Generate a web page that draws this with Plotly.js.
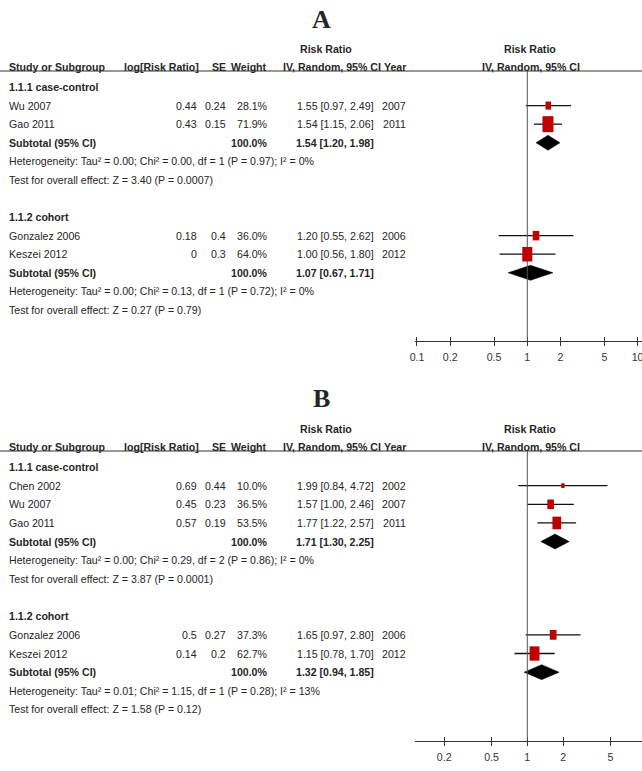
<!DOCTYPE html>
<html>
<head>
<meta charset="utf-8">
<script src="https://cdn.plot.ly/plotly-3.0.1.min.js"></script>
<style>html,body{margin:0;padding:0;background:#fff;}#chart{width:642px;height:771px;}</style>
</head>
<body>
<div id="chart"></div>
<script>
// ---------------- DATA ----------------
// Panel A
const A_groups = ['1.1.1 case-control', '1.1.2 cohort'];
const A_study = ['Wu 2007', 'Gao 2011', 'Gonzalez 2006', 'Keszei 2012'];
const A_group = [0, 0, 1, 1];
const A_logrr = ['0.44', '0.43', '0.18', '0'];
const A_se = ['0.24', '0.15', '0.4', '0.3'];
const A_weight = [28.1, 71.9, 36.0, 64.0];
const A_rr = [1.55, 1.54, 1.20, 1.00];
const A_lo = [0.97, 1.15, 0.55, 0.56];
const A_hi = [2.49, 2.06, 2.62, 1.80];
const A_year = ['2007', '2011', '2006', '2012'];
const A_sub_rr = [1.54, 1.07];
const A_sub_lo = [1.20, 0.67];
const A_sub_hi = [1.98, 1.71];
const A_het = ['Heterogeneity: Tau² = 0.00; Chi² = 0.00, df = 1 (P = 0.97); I² = 0%',
               'Heterogeneity: Tau² = 0.00; Chi² = 0.13, df = 1 (P = 0.72); I² = 0%'];
const A_test = ['Test for overall effect: Z = 3.40 (P = 0.0007)',
                'Test for overall effect: Z = 0.27 (P = 0.79)'];
const A_ticks = [0.1, 0.2, 0.5, 1, 2, 5, 10];
const A_ticktext = ['0.1', '0.2', '0.5', '1', '2', '5', '10'];

// Panel B
const B_groups = ['1.1.1 case-control', '1.1.2 cohort'];
const B_study = ['Chen 2002', 'Wu 2007', 'Gao 2011', 'Gonzalez 2006', 'Keszei 2012'];
const B_group = [0, 0, 0, 1, 1];
const B_logrr = ['0.69', '0.45', '0.57', '0.5', '0.14'];
const B_se = ['0.44', '0.23', '0.19', '0.27', '0.2'];
const B_weight = [10.0, 36.5, 53.5, 37.3, 62.7];
const B_rr = [1.99, 1.57, 1.77, 1.65, 1.15];
const B_lo = [0.84, 1.00, 1.22, 0.97, 0.78];
const B_hi = [4.72, 2.46, 2.57, 2.80, 1.70];
const B_year = ['2002', '2007', '2011', '2006', '2012'];
const B_sub_rr = [1.71, 1.32];
const B_sub_lo = [1.30, 0.94];
const B_sub_hi = [2.25, 1.85];
const B_het = ['Heterogeneity: Tau² = 0.00; Chi² = 0.29, df = 2 (P = 0.86); I² = 0%',
               'Heterogeneity: Tau² = 0.01; Chi² = 1.15, df = 1 (P = 0.28); I² = 13%'];
const B_test = ['Test for overall effect: Z = 3.87 (P = 0.0001)',
                'Test for overall effect: Z = 1.58 (P = 0.12)'];
const B_ticks = [0.2, 0.5, 1, 2, 5];
const B_ticktext = ['0.2', '0.5', '1', '2', '5'];

const headers = ['Study or Subgroup', 'log[Risk Ratio]', 'SE', 'Weight', 'IV, Random, 95% CI', 'Year'];
const effectLabel = 'Risk Ratio';
const methodLabel = 'IV, Random, 95% CI';
const subtotalLabel = 'Subtotal (95% CI)';
const subtotalWeight = '100.0%';

// ---------------- BUILD ----------------
const W = 642, H = 771;
const FONT = 'Liberation Sans, Arial, sans-serif';
const FS = 10.6;
const TXT = '#262626';
const traces = [];
const shapes = [];
const annotations = [];
const layout = {
  width: W, height: H,
  margin: {l: 0, r: 0, t: 0, b: 0},
  paper_bgcolor: '#fff', plot_bgcolor: 'rgba(0,0,0,0)',
  showlegend: false,
  font: {family: FONT, size: FS, color: TXT},
  shapes: shapes, annotations: annotations
};
const L10 = v => Math.log10(v);

function txtPx(text, xPx, yPx, anchor, bold, size, family) {
  annotations.push({
    text: bold ? '<b>' + text + '</b>' : text,
    xref: 'paper', x: xPx / W, yref: 'paper', y: 1 - yPx / H,
    xanchor: anchor, yanchor: 'middle', showarrow: false,
    borderpad: 0, borderwidth: 0,
    font: {family: family || FONT, size: size || FS, color: TXT}
  });
}

function buildPanel(P) {
  const g = P.geom;
  const rowPx = r => g.row0Px + r * g.step;
  const txt = (text, xPx, r, anchor, bold) => txtPx(text, xPx, rowPx(r), anchor, bold);
  const yTop = (g.linePx - g.row0Px) / g.step;
  const yBot = (g.axisPx - g.row0Px) / g.step;
  const yaName = 'yaxis' + (P.y === 'y' ? '' : P.y.slice(1));
  const xaName = 'xaxis' + (P.x === 'x' ? '' : P.x.slice(1));
  const xoName = 'xaxis' + P.xo.slice(1);
  const dom = [g.xLeftPx / W, 1];
  const tv = P.ticks.map(L10);
  layout[yaName] = {domain: [1 - g.axisPx / H, 1 - g.linePx / H], range: [yBot, yTop],
                    visible: false, fixedrange: true};
  layout[xaName] = {domain: dom, range: g.xRange, anchor: P.y, showgrid: false, zeroline: false,
                    showline: true, linecolor: '#333', linewidth: 1.2,
                    ticks: 'outside', ticklen: 4, tickwidth: 1, tickcolor: '#333',
                    tickmode: 'array', tickvals: tv, ticktext: P.ticktext,
                    tickfont: {family: FONT, size: FS, color: '#333'}, ticklabelstandoff: 2,
                    ticklabeloverflow: 'allow', fixedrange: true};
  layout[xoName] = {domain: dom, range: g.xRange, anchor: P.y, overlaying: P.x,
                    showgrid: false, zeroline: false, showline: false,
                    ticks: 'inside', ticklen: 4, tickwidth: 1, tickcolor: '#333',
                    tickmode: 'array', tickvals: tv, showticklabels: false, fixedrange: true};
  traces.push({x: [0], y: [0], xaxis: P.xo, yaxis: P.y, mode: 'markers',
               marker: {opacity: 0}, hoverinfo: 'skip'});

  const pxPerX = (W - g.xLeftPx) / (g.xRange[1] - g.xRange[0]);

  // header line and null line
  shapes.push({type: 'line', xref: 'paper', x0: 0, x1: 1, yref: P.y + ' domain', y0: 1, y1: 1,
               line: {color: '#333', width: 1.2}});
  shapes.push({type: 'line', xref: P.x, x0: 0, x1: 0, yref: P.y + ' domain', y0: 0, y1: 1,
               line: {color: '#555', width: 1}});

  // titles & headers
  txtPx(P.title, 321, g.titlePx, 'center', true, 26, 'Liberation Serif, Times New Roman, serif');
  txtPx(effectLabel, 326, g.linePx - 22, 'center', true);
  txtPx(effectLabel, 530, g.linePx - 22, 'center', true);
  const hy = g.linePx - 4;
  txtPx(headers[0], 9, hy, 'left', true);
  txtPx(headers[1], 199, hy, 'right', true);
  txtPx(headers[2], 226, hy, 'right', true);
  txtPx(headers[3], 267, hy, 'right', true);
  txtPx(headers[4], 381, hy, 'right', true);
  txtPx(headers[5], 406, hy, 'right', true);
  txtPx(methodLabel, 531, hy, 'center', true);

  const ciX = [], ciY = [];
  let r = 0;
  P.groups.forEach((gname, gi) => {
    txt(gname, 9, r, 'left', true);
    r++;
    P.study.forEach((s, i) => {
      if (P.group[i] !== gi) return;
      txt(s, 9, r, 'left', false);
      txt(P.logrr[i], 197, r, 'right', false);
      txt(P.se[i], 226, r, 'right', false);
      txt(P.weight[i].toFixed(1) + '%', 268, r, 'right', false);
      txt(P.rr[i].toFixed(2) + ' [' + P.lo[i].toFixed(2) + ', ' + P.hi[i].toFixed(2) + ']',
          374, r, 'right', false);
      txt(P.year[i], 406, r, 'right', false);
      ciX.push(L10(P.lo[i]), L10(P.hi[i]), null);
      ciY.push(r, r, null);
      const wPx = 2.06 + 0.1244 * P.weight[i];
      const hPx = 1.45 * wPx;
      const cx = L10(P.rr[i]);
      shapes.push({type: 'rect', xref: P.x, yref: P.y,
                   x0: cx - wPx / 2 / pxPerX, x1: cx + wPx / 2 / pxPerX,
                   y0: r - hPx / 2 / g.step, y1: r + hPx / 2 / g.step,
                   fillcolor: '#c00000', line: {width: 0}, layer: 'above'});
      r++;
    });
    txt(subtotalLabel, 9, r, 'left', true);
    txt(subtotalWeight, 268, r, 'right', true);
    txt(P.sub_rr[gi].toFixed(2) + ' [' + P.sub_lo[gi].toFixed(2) + ', ' + P.sub_hi[gi].toFixed(2) + ']',
        374, r, 'right', true);
    const dh = 7.5 / g.step;
    traces.push({
      x: [L10(P.sub_lo[gi]), L10(P.sub_rr[gi]), L10(P.sub_hi[gi]), L10(P.sub_rr[gi]), L10(P.sub_lo[gi])],
      y: [r, r - dh, r, r + dh, r],
      xaxis: P.x, yaxis: P.y, mode: 'lines', fill: 'toself', fillcolor: '#000',
      line: {color: '#000', width: 0.5}, hoverinfo: 'skip'
    });
    r++;
    txt(P.het[gi], 9, r, 'left', false);
    r++;
    txt(P.test[gi], 9, r, 'left', false);
    r++;
    r++;
  });
  traces.push({x: ciX, y: ciY, xaxis: P.x, yaxis: P.y, mode: 'lines',
               line: {color: '#111', width: 1.3}, hoverinfo: 'skip', connectgaps: false});
}

buildPanel({
  title: 'A', x: 'x', xo: 'x3', y: 'y',
  groups: A_groups, study: A_study, group: A_group, logrr: A_logrr, se: A_se, weight: A_weight,
  rr: A_rr, lo: A_lo, hi: A_hi, year: A_year, sub_rr: A_sub_rr, sub_lo: A_sub_lo, sub_hi: A_sub_hi,
  het: A_het, test: A_test, ticks: A_ticks, ticktext: A_ticktext,
  geom: {titlePx: 19, linePx: 71, axisPx: 341, row0Px: 87, step: 18.58, xLeftPx: 415, xRange: [-1.018, 1.04]}
});
buildPanel({
  title: 'B', x: 'x2', xo: 'x4', y: 'y2',
  groups: B_groups, study: B_study, group: B_group, logrr: B_logrr, se: B_se, weight: B_weight,
  rr: B_rr, lo: B_lo, hi: B_hi, year: B_year, sub_rr: B_sub_rr, sub_lo: B_sub_lo, sub_hi: B_sub_hi,
  het: B_het, test: B_test, ticks: B_ticks, ticktext: B_ticktext,
  geom: {titlePx: 398, linePx: 451, axisPx: 741, row0Px: 467, step: 18.65, xLeftPx: 415, xRange: [-0.944, 0.964]}
});

Plotly.newPlot('chart', traces, layout, {staticPlot: true, displayModeBar: false});
</script>
</body>
</html>
